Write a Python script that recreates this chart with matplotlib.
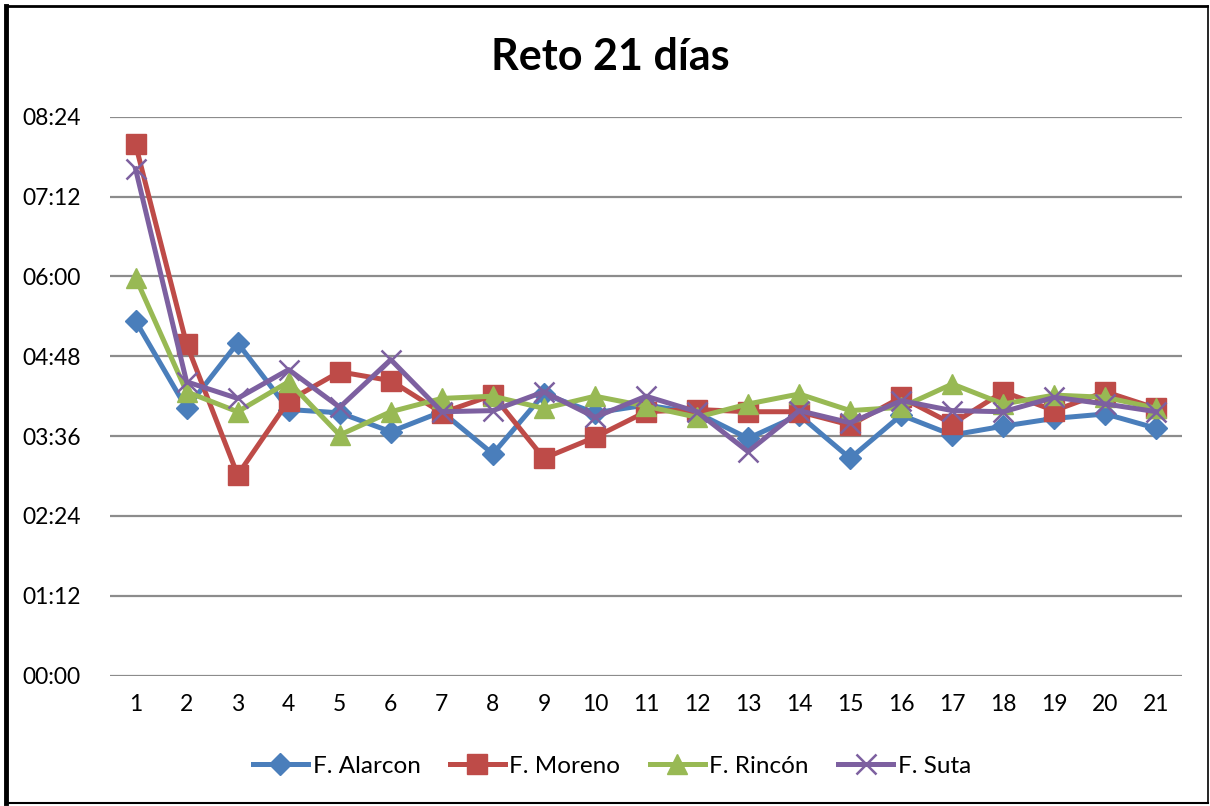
import matplotlib
matplotlib.use("Agg")
import matplotlib.pyplot as plt
from matplotlib.ticker import FixedLocator, FuncFormatter
from matplotlib.lines import Line2D

days = list(range(1, 22))
series_names = ["F. Alarcon", "F. Moreno", "F. Rincón", "F. Suta"]
# values in minutes (displayed as HH:MM)
alarcon = [320, 241, 300, 240, 237, 220, 238, 200, 254, 237, 244, 237, 214, 235, 196, 235, 217, 225, 232, 236, 223]
moreno = [479, 299, 181, 248, 274, 266, 237, 253, 196, 215, 238, 240, 238, 238, 226, 251, 227, 256, 239, 256, 241]
rincon = [359, 256, 238, 265, 217, 238, 250, 252, 241, 252, 243, 233, 245, 254, 239, 242, 263, 245, 253, 251, 241]
suta = [457, 265, 250, 276, 242, 285, 238, 239, 256, 233, 252, 238, 202, 239, 228, 248, 239, 238, 251, 245, 238]
y_ticks = [0, 72, 144, 216, 288, 360, 432, 504]
title = "Reto 21 días"

colors = ["#4A7EBB", "#BE4B48", "#98B954", "#7D60A0"]
markers = ["D", "s", "^", "x"]
msizes = [11, 14, 14, 14]

plt.rcParams['font.family'] = ['Lato', 'DejaVu Sans']

W, H = 1210, 806
fig = plt.figure(figsize=(W / 100, H / 100), dpi=100)
left, right, top, bottom = 110, 1182, 116.7, 675.7
ax = fig.add_axes([left / W, 1 - bottom / H, (right - left) / W, (bottom - top) / H])

for vals, name, c, m, ms in zip([alarcon, moreno, rincon, suta], series_names, colors, markers, msizes):
    kw = dict(markerfacecolor=c, markeredgecolor=c)
    if m == "x":
        kw["markeredgewidth"] = 1.8
    ax.plot(days, vals, color=c, lw=3.6, marker=m, markersize=ms, label=name, clip_on=False, **kw)

ax.set_xlim(0.5, 21.5)
ax.set_ylim(0, 504)
ax.yaxis.set_major_locator(FixedLocator(y_ticks))
ax.yaxis.set_major_formatter(FuncFormatter(lambda v, p: f"{int(v)//60:02d}:{int(v)%60:02d}"))
ax.set_xticks(days)
ax.set_xticklabels([str(d) for d in days])
ax.grid(axis="y", color="#8C8C8C", lw=1.6)
ax.set_axisbelow(True)
for s in ax.spines.values():
    s.set_visible(False)
ax.tick_params(axis="both", length=0, labelsize=16.5, colors="black")
ax.tick_params(axis="y", pad=21)
ax.tick_params(axis="x", pad=13)

fig.text(610 / W, 1 - 57 / H, title, ha="center", va="center", fontsize=31, fontweight="bold")

handles = [Line2D([0], [0], color=c, lw=3.6, marker=m, markersize=ms,
                  markerfacecolor=c, markeredgecolor=c, markeredgewidth=1.8 if m == "x" else 1)
           for c, m, ms in zip(colors, markers, msizes)]
fig.legend(handles, series_names, loc="center", bbox_to_anchor=(612 / W, 1 - 766 / H), ncol=4,
           frameon=False, fontsize=17.5, handlelength=2.26, handletextpad=0.2, columnspacing=1.2)

# outer border
def fline(x0, y0, x1, y1, lw):
    fig.add_artist(Line2D([x0 / W, x1 / W], [1 - y0 / H, 1 - y1 / H], color="black", lw=lw,
                          transform=fig.transFigure, solid_capstyle="projecting"))

fline(6, 6, 6, 803, 3.5)
fline(6, 6, 1207, 6, 2)
fline(1208, 6, 1208, 803, 1.2)
fline(6, 803, 1208, 803, 1.5)

fig.savefig("out.png", dpi=100, facecolor="white")
